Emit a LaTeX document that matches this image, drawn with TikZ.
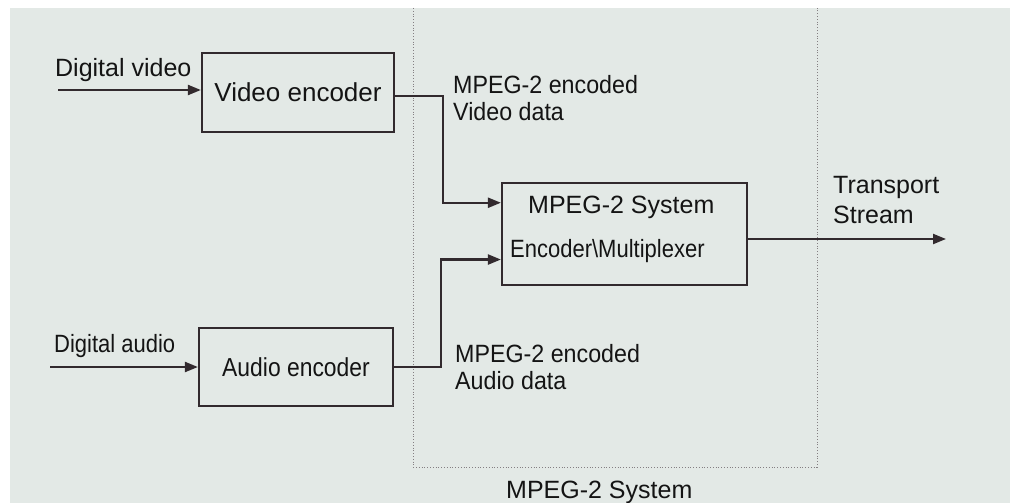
\documentclass[tikz,border=0pt]{standalone}
\usepackage{fontspec}
\setmainfont{Liberation Sans}
\newfontfamily\narrowf[FakeStretch=0.88]{Liberation Sans}
\newfontfamily\semif[FakeStretch=0.93]{Liberation Sans}
\usetikzlibrary{arrows.meta,calc}
\definecolor{pagebg}{RGB}{227,233,230}
\definecolor{ink}{RGB}{50,42,46}
\definecolor{txt}{RGB}{20,20,20}
\tikzset{
  blockbox/.style={draw=ink, line width=2.2pt, fill=none, inner sep=0pt, text=txt},
  arr/.style={draw=ink, line width=2.2pt, -{Triangle[length=13pt,width=10pt]}},
  lbl/.style={anchor=base west, inner sep=0pt, text=txt, font=\fontsize{25}{30}\selectfont},
  nlbl/.style={anchor=base west, inner sep=0pt, text=txt, font=\narrowf\fontsize{25}{30}\selectfont},
  slbl/.style={anchor=base west, inner sep=0pt, text=txt, font=\semif\fontsize{25}{30}\selectfont},
  boundary/.style={draw=ink!60, line width=0.8pt, dotted}
}
\begin{document}
\begin{tikzpicture}[x=1pt,y=-1pt]
\useasboundingbox (0,0) rectangle (1010,503);
\fill[white] (0,0) rectangle (1010,503);
\fill[pagebg] (10,8) rectangle (1010,503);

% system boundary
\draw[boundary] (413,8) -- (413,467) -- (817,467) -- (817,8);

% blocks
\node[blockbox, minimum width=192pt, minimum height=79pt,
      font=\fontsize{26}{30}\selectfont] (venc) at (298,92.5) {Video encoder};
\node[blockbox, minimum width=194pt, minimum height=78pt,
      font=\narrowf\fontsize{26}{30}\selectfont] (aenc) at (296,367) {Audio encoder};
\node[blockbox, minimum width=245pt, minimum height=102pt] (mux) at (624.5,234) {};
\node[lbl] (muxa) at (528,213) {MPEG-2 System};
\node[nlbl] (muxb) at (510,257) {Encoder\textbackslash Multiplexer};

% labels
\node[lbl] (dvl) at (55,77) {Digital video};
\node[nlbl] (dal) at (54,352) {Digital audio};
\node[slbl] (vd1) at (453,94) {MPEG-2 encoded};
\node[slbl] (vd2) at (453,121) {Video data};
\node[slbl] (ad1) at (455,362) {MPEG-2 encoded};
\node[slbl] (ad2) at (455,389) {Audio data};
\node[lbl] (ts1) at (833,193) {Transport};
\node[lbl] (ts2) at (833,223) {Stream};
\node[lbl] (sys) at (506,498) {MPEG-2 System};

% connectors
\coordinate (dvs) at (58,90);
\coordinate (das) at (50,367);
\coordinate (tse) at (946,239);
\draw[arr] (dvs) -- (dvs -| venc.west);
\draw[arr] (das) -- (das -| aenc.west);
\draw[arr] ($(venc.north east)!0.54!(venc.south east)$) -- ++(48,0)
      |- ($(mux.north west)!0.2!(mux.south west)$);
\draw[arr] (aenc.east) -- ++(47,0)
      |- ($(mux.north west)!0.745!(mux.south west)$);
\draw[arr] (tse -| mux.east) -- (tse);
\end{tikzpicture}
\end{document}
